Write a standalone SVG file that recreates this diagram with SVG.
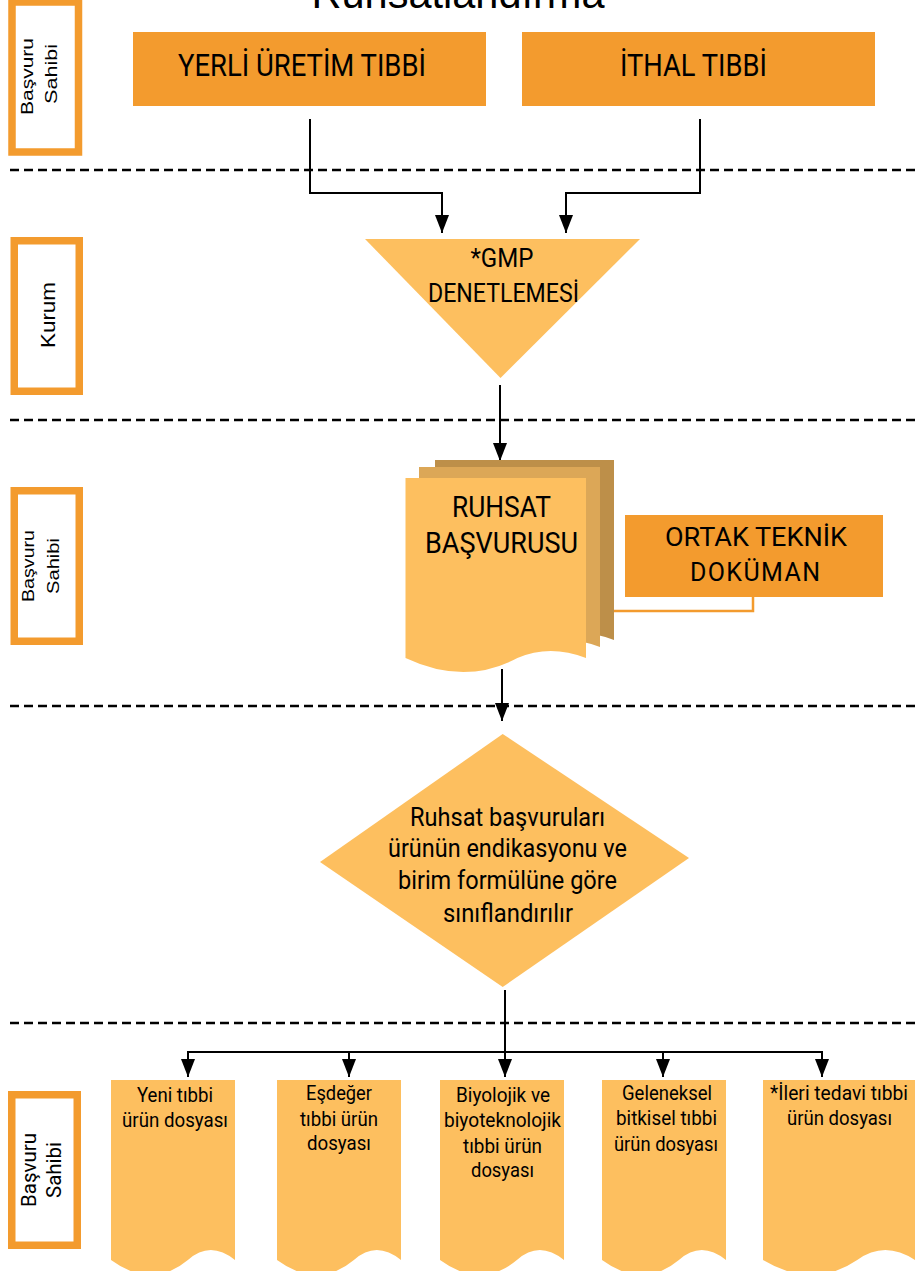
<svg xmlns="http://www.w3.org/2000/svg" width="915" height="1271" viewBox="0 0 915 1271">
  <style>
    .lane { fill: #ffffff; stroke: #F39B2E; stroke-width: 7.5; }
    .lbl { font-family: "Liberation Sans", Arial, sans-serif; font-size: 16.5px; fill: #000; }
    .lbl2 { font-family: Roboto, "Noto Sans", sans-serif; font-size: 20.5px; fill: #000; }
    .t { font-family: Roboto, "Noto Sans", sans-serif; fill: #000; text-anchor: middle; }
    .box { fill: #F39B2E; }
    .lt { fill: #FDBF5F; }
    .mid { fill: #DCA757; }
    .dark { fill: #BD8F49; }
    .conn { fill: none; stroke: #000; stroke-width: 2; }
    .sep { fill: none; stroke: #000; stroke-width: 2.5; stroke-dasharray: 9 5; }
  </style>
  <defs>
    <marker id="arrow" viewBox="0 0 18 14" refX="18" refY="7" markerWidth="18" markerHeight="14" markerUnits="userSpaceOnUse" orient="auto">
      <path d="M0,0 L18,7 L0,14 Z" fill="#000"/>
    </marker>
  </defs>

  <rect width="915" height="1271" fill="#ffffff"/>

  <!-- title, mostly above the top edge -->
  <text x="458" y="8" font-family="'Liberation Sans', Arial, sans-serif" font-size="42" text-anchor="middle" textLength="293" lengthAdjust="spacingAndGlyphs">Ruhsatlandırma</text>

  <!-- lane separators -->
  <g id="separators">
    <line class="sep" x1="10" y1="170" x2="915" y2="170"/>
    <line class="sep" x1="10" y1="420" x2="915" y2="420"/>
    <line class="sep" x1="10" y1="706" x2="915" y2="706"/>
    <line class="sep" x1="10" y1="1023" x2="915" y2="1023"/>
  </g>

  <!-- lane labels -->
  <g id="lane-1">
    <rect class="lane" x="12" y="2" width="66.5" height="150"/>
    <text class="lbl" transform="translate(33,76.5) rotate(-90)" text-anchor="middle" textLength="77" lengthAdjust="spacingAndGlyphs">Başvuru</text>
    <text class="lbl" transform="translate(57,74) rotate(-90)" text-anchor="middle" textLength="60" lengthAdjust="spacingAndGlyphs">Sahibi</text>
  </g>
  <g id="lane-2">
    <rect class="lane" x="14.25" y="240.75" width="65" height="150.5"/>
    <text class="lbl" style="font-size:20px" transform="translate(54.5,315) rotate(-90)" text-anchor="middle" textLength="66" lengthAdjust="spacingAndGlyphs">Kurum</text>
  </g>
  <g id="lane-3">
    <rect class="lane" x="14.25" y="490.75" width="65" height="150.5"/>
    <text class="lbl" transform="translate(34,566) rotate(-90)" text-anchor="middle" textLength="72" lengthAdjust="spacingAndGlyphs">Başvuru</text>
    <text class="lbl" transform="translate(58.5,566) rotate(-90)" text-anchor="middle" textLength="56" lengthAdjust="spacingAndGlyphs">Sahibi</text>
  </g>
  <g id="lane-4">
    <rect class="lane" x="11.75" y="1094.75" width="65.5" height="150.5"/>
    <text class="lbl2" transform="translate(36,1170) rotate(-90)" text-anchor="middle" textLength="74" lengthAdjust="spacingAndGlyphs">Başvuru</text>
    <text class="lbl2" transform="translate(61,1170) rotate(-90)" text-anchor="middle" textLength="56" lengthAdjust="spacingAndGlyphs">Sahibi</text>
  </g>

  <!-- connectors -->
  <g id="connectors">
    <path class="conn" d="M310,119 V193 H442 V233" marker-end="url(#arrow)"/>
    <path class="conn" d="M700,119 V193 H566 V233" marker-end="url(#arrow)"/>
    <path class="conn" d="M500,385 V461" marker-end="url(#arrow)"/>
    <path class="conn" d="M502,669 V721" marker-end="url(#arrow)"/>
    <path class="conn" d="M505,990 V1052"/>
    <path class="conn" d="M187,1052 H823"/>
    <path class="conn" d="M188,1052 V1077" marker-end="url(#arrow)"/>
    <path class="conn" d="M349,1052 V1077" marker-end="url(#arrow)"/>
    <path class="conn" d="M505,1052 V1077" marker-end="url(#arrow)"/>
    <path class="conn" d="M663,1052 V1077" marker-end="url(#arrow)"/>
    <path class="conn" d="M822,1052 V1077" marker-end="url(#arrow)"/>
    <path d="M753,597 V611 H614" fill="none" stroke="#F39B2E" stroke-width="2.5"/>
  </g>

  <!-- source boxes -->
  <g id="yerli">
    <rect class="box" x="133" y="32" width="353" height="74"/>
    <text class="t" x="302" y="76" font-size="32" textLength="248" lengthAdjust="spacingAndGlyphs">YERLİ ÜRETİM TIBBİ</text>
  </g>
  <g id="ithal">
    <rect class="box" x="522" y="32" width="353" height="74"/>
    <text class="t" x="693.5" y="76" font-size="32" textLength="147" lengthAdjust="spacingAndGlyphs">İTHAL TIBBİ</text>
  </g>

  <!-- inspection (merge triangle) -->
  <g id="gmp">
    <polygon class="lt" points="365,239 640,239 500.5,378"/>
    <text class="t" x="502" y="267" font-size="26" textLength="63" lengthAdjust="spacingAndGlyphs">*GMP</text>
    <text class="t" x="503.5" y="302" font-size="26" textLength="151" lengthAdjust="spacingAndGlyphs">DENETLEMESİ</text>
  </g>

  <!-- application (multi-document) -->
  <g id="ruhsat-basvurusu">
    <path class="dark" d="M435,460 H614 V640 Q578.2,626 546,640 Q494.1,668 435,640 Z"/>
    <path class="mid" d="M419,467 H600 V647 Q563.8,633 531.2,647 Q478.7,675 419,647 Z"/>
    <path class="lt" d="M405.5,478 H586 V658 Q549.9,644 517.4,658 Q465.1,686 405.5,658 Z"/>
    <text class="t" x="501.5" y="517" font-size="29" textLength="99" lengthAdjust="spacingAndGlyphs">RUHSAT</text>
    <text class="t" x="501.5" y="553" font-size="29" textLength="153" lengthAdjust="spacingAndGlyphs">BAŞVURUSU</text>
  </g>

  <g id="ortak-teknik">
    <rect class="box" x="625" y="515" width="258" height="82"/>
    <text class="t" x="756" y="546" font-size="25" textLength="182" lengthAdjust="spacingAndGlyphs">ORTAK TEKNİK</text>
    <text class="t" x="755" y="581" font-size="25" textLength="130" lengthAdjust="spacing">DOKÜMAN</text>
  </g>

  <!-- classification decision -->
  <g id="siniflandirma">
    <polygon class="lt" points="502.7,734 689,858 502.7,987 320,862"/>
    <text class="t" x="507.5" y="826" font-size="26" textLength="195" lengthAdjust="spacingAndGlyphs">Ruhsat başvuruları</text>
    <text class="t" x="507.5" y="857" font-size="26" textLength="239" lengthAdjust="spacingAndGlyphs">ürünün endikasyonu ve</text>
    <text class="t" x="507.5" y="889" font-size="26" textLength="219" lengthAdjust="spacingAndGlyphs">birim formülüne göre</text>
    <text class="t" x="508" y="922" font-size="26" textLength="130" lengthAdjust="spacingAndGlyphs">sınıflandırılır</text>
  </g>

  <!-- dossier types -->
  <g id="yeni">
    <path class="lt" d="M111,1080 H235 V1260 Q210.2,1240 187.9,1260 Q151.9,1290 111,1260 Z"/>
    <text class="t" x="175" y="1102" font-size="21" textLength="76" lengthAdjust="spacingAndGlyphs">Yeni tıbbi</text>
    <text class="t" x="175" y="1127" font-size="21" textLength="106" lengthAdjust="spacingAndGlyphs">ürün dosyası</text>
  </g>
  <g id="esdeger">
    <path class="lt" d="M277,1080 H401 V1260 Q376.2,1240 353.9,1260 Q317.9,1290 277,1260 Z"/>
    <text class="t" x="339" y="1100" font-size="21" textLength="66" lengthAdjust="spacingAndGlyphs">Eşdeğer</text>
    <text class="t" x="339" y="1126" font-size="21" textLength="78" lengthAdjust="spacingAndGlyphs">tıbbi ürün</text>
    <text class="t" x="339" y="1150" font-size="21" textLength="64" lengthAdjust="spacingAndGlyphs">dosyası</text>
  </g>
  <g id="biyolojik">
    <path class="lt" d="M440,1080 H564 V1260 Q539.2,1240 516.9,1260 Q480.9,1290 440,1260 Z"/>
    <text class="t" x="503" y="1102" font-size="21" textLength="94" lengthAdjust="spacingAndGlyphs">Biyolojik ve</text>
    <text class="t" x="502.5" y="1127" font-size="21" textLength="117" lengthAdjust="spacingAndGlyphs">biyoteknolojik</text>
    <text class="t" x="502.5" y="1153" font-size="21" textLength="79" lengthAdjust="spacingAndGlyphs">tıbbi ürün</text>
    <text class="t" x="502.5" y="1177" font-size="21" textLength="63" lengthAdjust="spacingAndGlyphs">dosyası</text>
  </g>
  <g id="geleneksel">
    <path class="lt" d="M602,1080 H726 V1260 Q701.2,1240 678.9,1260 Q642.9,1290 602,1260 Z"/>
    <text class="t" x="667" y="1100" font-size="21" textLength="90" lengthAdjust="spacingAndGlyphs">Geleneksel</text>
    <text class="t" x="666.5" y="1125" font-size="21" textLength="101" lengthAdjust="spacingAndGlyphs">bitkisel tıbbi</text>
    <text class="t" x="666" y="1151" font-size="21" textLength="104" lengthAdjust="spacingAndGlyphs">ürün dosyası</text>
  </g>
  <g id="ileri-tedavi">
    <path class="lt" d="M763,1080 H915 V1260 Q884.6,1240 857.2,1260 Q813.2,1290 763,1260 Z"/>
    <text class="t" x="839" y="1100" font-size="21" textLength="138" lengthAdjust="spacingAndGlyphs">*İleri tedavi tıbbi</text>
    <text class="t" x="839.5" y="1125" font-size="21" textLength="105" lengthAdjust="spacingAndGlyphs">ürün dosyası</text>
  </g>
</svg>
